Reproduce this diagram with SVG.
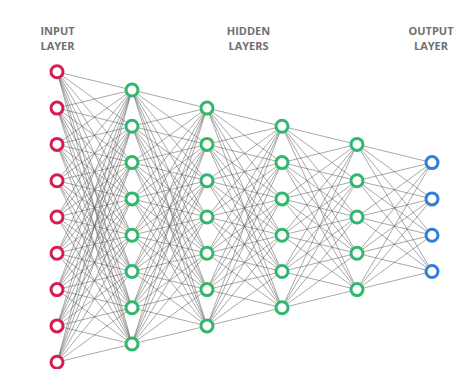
<svg xmlns="http://www.w3.org/2000/svg" width="473" height="369" viewBox="0 0 473 369">
<style>
.lbl{font-family:"Open Sans","Liberation Sans",sans-serif;font-size:11px;font-weight:700;fill:#707070;text-anchor:middle}
.e{fill:none;stroke:#555;stroke-width:0.6;stroke-opacity:0.85}
.n{fill:#fff;stroke-width:3}
.in{stroke:#d81b50}
.hd{stroke:#2fb86c}
.out{stroke:#2f7fd8}
</style>
<rect width="473" height="369" fill="#fff"/>
<g id="labels">
<text class="lbl" x="57.5" y="35">INPUT</text>
<text class="lbl" x="57.5" y="50">LAYER</text>
<text class="lbl" x="248.5" y="35">HIDDEN</text>
<text class="lbl" x="248.5" y="50">LAYERS</text>
<text class="lbl" x="431" y="35">OUTPUT</text>
<text class="lbl" x="431" y="50">LAYER</text>
</g>
<g id="connectors">
<path class="e" d="M57,71.8L132,90M57,71.8L132,126.3M57,71.8L132,162.6M57,71.8L132,198.9M57,71.8L132,235.2M57,71.8L132,271.5M57,71.8L132,307.8M57,71.8L132,344
M57,108.1L132,90M57,108.1L132,126.3M57,108.1L132,162.6M57,108.1L132,198.9M57,108.1L132,235.2M57,108.1L132,271.5M57,108.1L132,307.8M57,108.1L132,344
M57,144.4L132,90M57,144.4L132,126.3M57,144.4L132,162.6M57,144.4L132,198.9M57,144.4L132,235.2M57,144.4L132,271.5M57,144.4L132,307.8M57,144.4L132,344
M57,180.7L132,90M57,180.7L132,126.3M57,180.7L132,162.6M57,180.7L132,198.9M57,180.7L132,235.2M57,180.7L132,271.5M57,180.7L132,307.8M57,180.7L132,344
M57,217L132,90M57,217L132,126.3M57,217L132,162.6M57,217L132,198.9M57,217L132,235.2M57,217L132,271.5M57,217L132,307.8M57,217L132,344
M57,253.3L132,90M57,253.3L132,126.3M57,253.3L132,162.6M57,253.3L132,198.9M57,253.3L132,235.2M57,253.3L132,271.5M57,253.3L132,307.8M57,253.3L132,344
M57,289.6L132,90M57,289.6L132,126.3M57,289.6L132,162.6M57,289.6L132,198.9M57,289.6L132,235.2M57,289.6L132,271.5M57,289.6L132,307.8M57,289.6L132,344
M57,325.9L132,90M57,325.9L132,126.3M57,325.9L132,162.6M57,325.9L132,198.9M57,325.9L132,235.2M57,325.9L132,271.5M57,325.9L132,307.8M57,325.9L132,344
M57,362.2L132,90M57,362.2L132,126.3M57,362.2L132,162.6M57,362.2L132,198.9M57,362.2L132,235.2M57,362.2L132,271.5M57,362.2L132,307.8M57,362.2L132,344"/>
<path class="e" d="M132,90L207,108.1M132,90L207,144.4M132,90L207,180.7M132,90L207,217M132,90L207,253.3M132,90L207,289.6M132,90L207,325.9
M132,126.3L207,108.1M132,126.3L207,144.4M132,126.3L207,180.7M132,126.3L207,217M132,126.3L207,253.3M132,126.3L207,289.6M132,126.3L207,325.9
M132,162.6L207,108.1M132,162.6L207,144.4M132,162.6L207,180.7M132,162.6L207,217M132,162.6L207,253.3M132,162.6L207,289.6M132,162.6L207,325.9
M132,198.9L207,108.1M132,198.9L207,144.4M132,198.9L207,180.7M132,198.9L207,217M132,198.9L207,253.3M132,198.9L207,289.6M132,198.9L207,325.9
M132,235.2L207,108.1M132,235.2L207,144.4M132,235.2L207,180.7M132,235.2L207,217M132,235.2L207,253.3M132,235.2L207,289.6M132,235.2L207,325.9
M132,271.5L207,108.1M132,271.5L207,144.4M132,271.5L207,180.7M132,271.5L207,217M132,271.5L207,253.3M132,271.5L207,289.6M132,271.5L207,325.9
M132,307.8L207,108.1M132,307.8L207,144.4M132,307.8L207,180.7M132,307.8L207,217M132,307.8L207,253.3M132,307.8L207,289.6M132,307.8L207,325.9
M132,344L207,108.1M132,344L207,144.4M132,344L207,180.7M132,344L207,217M132,344L207,253.3M132,344L207,289.6M132,344L207,325.9"/>
<path class="e" d="M207,108.1L282,126.3M207,108.1L282,162.6M207,108.1L282,198.9M207,108.1L282,235.2M207,108.1L282,271.5M207,108.1L282,307.8
M207,144.4L282,126.3M207,144.4L282,162.6M207,144.4L282,198.9M207,144.4L282,235.2M207,144.4L282,271.5M207,144.4L282,307.8
M207,180.7L282,126.3M207,180.7L282,162.6M207,180.7L282,198.9M207,180.7L282,235.2M207,180.7L282,271.5M207,180.7L282,307.8
M207,217L282,126.3M207,217L282,162.6M207,217L282,198.9M207,217L282,235.2M207,217L282,271.5M207,217L282,307.8
M207,253.3L282,126.3M207,253.3L282,162.6M207,253.3L282,198.9M207,253.3L282,235.2M207,253.3L282,271.5M207,253.3L282,307.8
M207,289.6L282,126.3M207,289.6L282,162.6M207,289.6L282,198.9M207,289.6L282,235.2M207,289.6L282,271.5M207,289.6L282,307.8
M207,325.9L282,126.3M207,325.9L282,162.6M207,325.9L282,198.9M207,325.9L282,235.2M207,325.9L282,271.5M207,325.9L282,307.8"/>
<path class="e" d="M282,126.3L357,144.4M282,126.3L357,180.7M282,126.3L357,217M282,126.3L357,253.3M282,126.3L357,289.6
M282,162.6L357,144.4M282,162.6L357,180.7M282,162.6L357,217M282,162.6L357,253.3M282,162.6L357,289.6
M282,198.9L357,144.4M282,198.9L357,180.7M282,198.9L357,217M282,198.9L357,253.3M282,198.9L357,289.6
M282,235.2L357,144.4M282,235.2L357,180.7M282,235.2L357,217M282,235.2L357,253.3M282,235.2L357,289.6
M282,271.5L357,144.4M282,271.5L357,180.7M282,271.5L357,217M282,271.5L357,253.3M282,271.5L357,289.6
M282,307.8L357,144.4M282,307.8L357,180.7M282,307.8L357,217M282,307.8L357,253.3M282,307.8L357,289.6"/>
<path class="e" d="M357,144.4L432,162.6M357,144.4L432,198.9M357,144.4L432,235.2M357,144.4L432,271.5
M357,180.7L432,162.6M357,180.7L432,198.9M357,180.7L432,235.2M357,180.7L432,271.5
M357,217L432,162.6M357,217L432,198.9M357,217L432,235.2M357,217L432,271.5
M357,253.3L432,162.6M357,253.3L432,198.9M357,253.3L432,235.2M357,253.3L432,271.5
M357,289.6L432,162.6M357,289.6L432,198.9M357,289.6L432,235.2M357,289.6L432,271.5"/>
</g>
<g id="input-layer">
<g id="in1"><circle class="n in" cx="57" cy="71.8" r="6"/></g>
<g id="in2"><circle class="n in" cx="57" cy="108.1" r="6"/></g>
<g id="in3"><circle class="n in" cx="57" cy="144.4" r="6"/></g>
<g id="in4"><circle class="n in" cx="57" cy="180.7" r="6"/></g>
<g id="in5"><circle class="n in" cx="57" cy="217" r="6"/></g>
<g id="in6"><circle class="n in" cx="57" cy="253.3" r="6"/></g>
<g id="in7"><circle class="n in" cx="57" cy="289.6" r="6"/></g>
<g id="in8"><circle class="n in" cx="57" cy="325.9" r="6"/></g>
<g id="in9"><circle class="n in" cx="57" cy="362.2" r="6"/></g>
</g>
<g id="hidden-layer-1">
<g id="h1n1"><circle class="n hd" cx="132" cy="90" r="6"/></g>
<g id="h1n2"><circle class="n hd" cx="132" cy="126.3" r="6"/></g>
<g id="h1n3"><circle class="n hd" cx="132" cy="162.6" r="6"/></g>
<g id="h1n4"><circle class="n hd" cx="132" cy="198.9" r="6"/></g>
<g id="h1n5"><circle class="n hd" cx="132" cy="235.2" r="6"/></g>
<g id="h1n6"><circle class="n hd" cx="132" cy="271.5" r="6"/></g>
<g id="h1n7"><circle class="n hd" cx="132" cy="307.8" r="6"/></g>
<g id="h1n8"><circle class="n hd" cx="132" cy="344" r="6"/></g>
</g>
<g id="hidden-layer-2">
<g id="h2n1"><circle class="n hd" cx="207" cy="108.1" r="6"/></g>
<g id="h2n2"><circle class="n hd" cx="207" cy="144.4" r="6"/></g>
<g id="h2n3"><circle class="n hd" cx="207" cy="180.7" r="6"/></g>
<g id="h2n4"><circle class="n hd" cx="207" cy="217" r="6"/></g>
<g id="h2n5"><circle class="n hd" cx="207" cy="253.3" r="6"/></g>
<g id="h2n6"><circle class="n hd" cx="207" cy="289.6" r="6"/></g>
<g id="h2n7"><circle class="n hd" cx="207" cy="325.9" r="6"/></g>
</g>
<g id="hidden-layer-3">
<g id="h3n1"><circle class="n hd" cx="282" cy="126.3" r="6"/></g>
<g id="h3n2"><circle class="n hd" cx="282" cy="162.6" r="6"/></g>
<g id="h3n3"><circle class="n hd" cx="282" cy="198.9" r="6"/></g>
<g id="h3n4"><circle class="n hd" cx="282" cy="235.2" r="6"/></g>
<g id="h3n5"><circle class="n hd" cx="282" cy="271.5" r="6"/></g>
<g id="h3n6"><circle class="n hd" cx="282" cy="307.8" r="6"/></g>
</g>
<g id="hidden-layer-4">
<g id="h4n1"><circle class="n hd" cx="357" cy="144.4" r="6"/></g>
<g id="h4n2"><circle class="n hd" cx="357" cy="180.7" r="6"/></g>
<g id="h4n3"><circle class="n hd" cx="357" cy="217" r="6"/></g>
<g id="h4n4"><circle class="n hd" cx="357" cy="253.3" r="6"/></g>
<g id="h4n5"><circle class="n hd" cx="357" cy="289.6" r="6"/></g>
</g>
<g id="output-layer">
<g id="out1"><circle class="n out" cx="432" cy="162.6" r="6"/></g>
<g id="out2"><circle class="n out" cx="432" cy="198.9" r="6"/></g>
<g id="out3"><circle class="n out" cx="432" cy="235.2" r="6"/></g>
<g id="out4"><circle class="n out" cx="432" cy="271.5" r="6"/></g>
</g>
</svg>
